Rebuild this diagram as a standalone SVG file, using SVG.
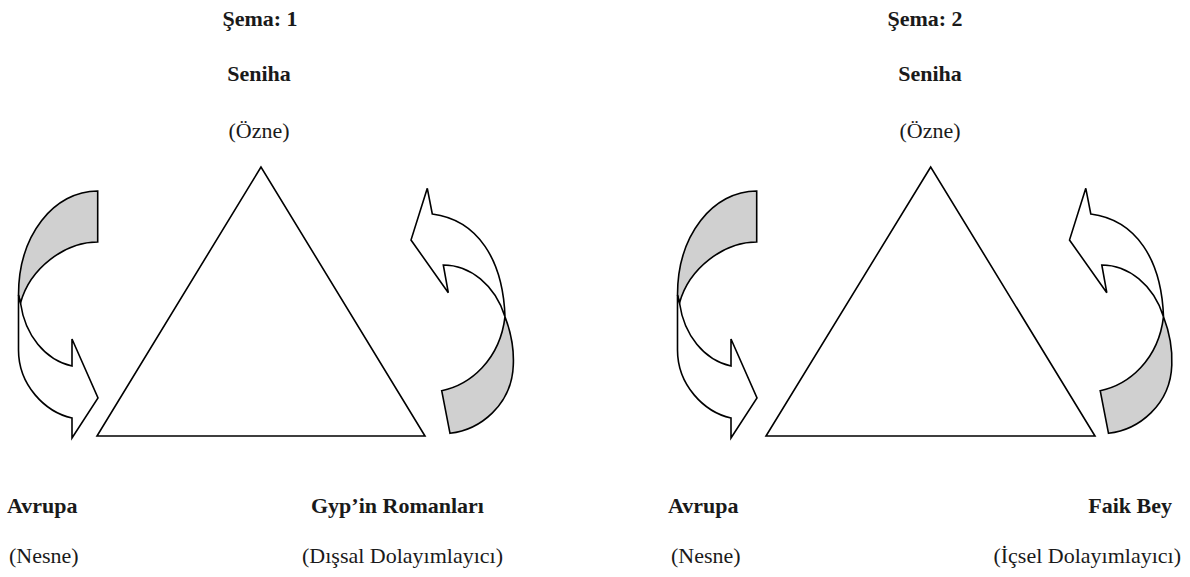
<svg xmlns="http://www.w3.org/2000/svg" width="1190" height="577" viewBox="0 0 1190 577">
<style>
.s{stroke:#000;stroke-width:1.6;stroke-linejoin:miter}
.w{fill:#fff}
.g{fill:#d0d0d0}
.b{font-family:"Liberation Serif","Times New Roman",serif;font-weight:bold;font-size:22px;fill:#1a1a1a}
.r{font-family:"Liberation Serif","Times New Roman",serif;font-size:22px;fill:#1a1a1a}
</style>
<defs>
<g id="larrow">
<path class="s g" d="M97.7,191 C54,191 18.5,235 18.5,295 L20.5,303 C30,268 65,242 97.7,242 Z"/>
<path class="s w" d="M20.5,303 C25,335 45,360 72,366 L72,339 L98,398 L72,438 L72,418 C45,412 18.5,385 18.5,350 L18.5,295 Z"/>
</g>
<g id="rarrow">
<path class="s g" d="M505,316.7 C512,335 514,350 513.3,365 C512,405 480,430 450,433.3 L441.7,390.7 C470,385 500,360 505,316.7 Z"/>
<path class="s w" d="M505,316.7 C495,285 470,265 443.3,265 L448.3,292.7 L411,240 L427.3,188.3 L432.3,214 C478,220 503,260 505,316.7 Z"/>
</g>
</defs>
<g id="connectors">
<use href="#larrow"/>
<use href="#rarrow"/>
<use href="#larrow" transform="translate(659,0)"/>
<use href="#rarrow" transform="translate(658.5,0)"/>
</g>
<g id="triangle1"><polygon class="s w" points="261,167 97,436 425,436"/></g>
<g id="triangle2"><polygon class="s w" points="930.7,167 766,436 1095,436"/></g>
<g id="schema1-title"><text class="b" x="260" y="26" text-anchor="middle">Şema: 1</text></g>
<g id="schema1-seniha"><text class="b" x="259" y="81" text-anchor="middle">Seniha</text><text class="r" x="259" y="138" text-anchor="middle">(Özne)</text></g>
<g id="schema1-avrupa"><text class="b" x="7" y="513">Avrupa</text><text class="r" x="9" y="563">(Nesne)</text></g>
<g id="schema1-gyp"><text class="b" x="311" y="513">Gyp’in Romanları</text><text class="r" x="302" y="563">(Dışsal Dolayımlayıcı)</text></g>
<g id="schema2-title"><text class="b" x="925" y="26" text-anchor="middle">Şema: 2</text></g>
<g id="schema2-seniha"><text class="b" x="930" y="81" text-anchor="middle">Seniha</text><text class="r" x="930" y="138" text-anchor="middle">(Özne)</text></g>
<g id="schema2-avrupa"><text class="b" x="668" y="513">Avrupa</text><text class="r" x="671" y="563">(Nesne)</text></g>
<g id="schema2-faik"><text class="b" x="1172" y="513" text-anchor="end">Faik Bey</text><text class="r" x="1181" y="563" text-anchor="end">(İçsel Dolayımlayıcı)</text></g>
</svg>
